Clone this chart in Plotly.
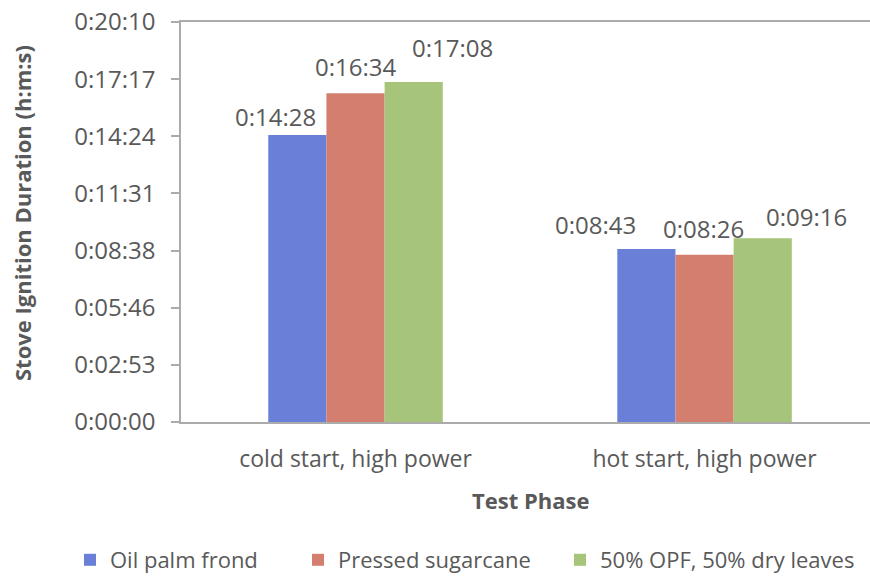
import plotly.graph_objects as go

# ---- data ----
categories = ["cold start, high power", "hot start, high power"]
series_names = ["Oil palm frond", "Pressed sugarcane", "50% OPF, 50% dry leaves"]
oil_palm_frond = [868, 523]        # seconds (0:14:28, 0:08:43)
pressed_sugarcane = [994, 506]     # seconds (0:16:34, 0:08:26)
opf_dry_leaves = [1028, 556]       # seconds (0:17:08, 0:09:16)
y_tick_seconds = [0, 172.8, 345.6, 518.4, 691.2, 864.0, 1036.8, 1209.6]
y_tick_labels = ["0:00:00", "0:02:53", "0:05:46", "0:08:38", "0:11:31", "0:14:24", "0:17:17", "0:20:10"]

series_values = [oil_palm_frond, pressed_sugarcane, opf_dry_leaves]
colors = ["#6A80D8", "#D47E6F", "#A6C47A"]

# label placement offsets (pixels) [series][category]
label_dx = [[-22, -51], [0, -1], [39, 44]]
label_dy = [[18, 25], [27, 26], [35, 22]]
# legend entry text start (pixels)
legend_text_px = [110, 338, 600]


def hms(s):
    s = int(round(s))
    return f"{s // 3600}:{(s % 3600) // 60:02d}:{s % 60:02d}"


FONT = "Open Sans"
GRAY = "#595959"
LINE = "#ABABAB"
PL, PR, PT, PB = 181, 870, 22, 422
PW, PH = PR - PL, PB - PT

legend_ids = ["legend", "legend2", "legend3"]

fig = go.Figure()
for name, vals, col, lid in zip(series_names, series_values, colors, legend_ids):
    fig.add_trace(go.Bar(name=name, x=categories, y=vals, legend=lid,
                         marker=dict(color=col, line=dict(width=0))))

bar_px = 58.2
for i, vals in enumerate(series_values):
    for j, v in enumerate(vals):
        fig.add_annotation(
            x=categories[j], y=v, xref="x", yref="y", text=hms(v), showarrow=False,
            xshift=(i - 1) * bar_px + label_dx[i][j], yshift=label_dy[i][j],
            font=dict(family=FONT, size=24, color=GRAY), xanchor="center", yanchor="middle",
        )

fig.add_annotation(
    text="<b>Stove Ignition Duration (h:m:s)</b>", textangle=-90, showarrow=False,
    xref="paper", yref="paper", x=(22 - PL) / PW, y=(PB - 213) / PH,
    xanchor="center", yanchor="middle", font=dict(family=FONT, size=22, color=GRAY),
)
fig.add_annotation(
    text="<b>Test Phase</b>", showarrow=False,
    xref="paper", yref="paper", x=(530 - PL) / PW, y=(PB - 500) / PH,
    xanchor="center", yanchor="middle", font=dict(family=FONT, size=22, color=GRAY),
)

legend_layout = {}
for lid, tx in zip(legend_ids, legend_text_px):
    legend_layout[lid] = dict(
        orientation="h", x=(tx - 40 - PL) / PW, y=(PB - 560) / PH, xanchor="left", yanchor="middle",
        font=dict(family=FONT, size=22, color=GRAY), itemwidth=30, bgcolor="rgba(0,0,0,0)",
    )

fig.update_layout(
    width=870, height=579,
    margin=dict(l=PL, r=870 - PR, t=PT, b=579 - PB, autoexpand=False),
    paper_bgcolor="white", plot_bgcolor="white",
    barmode="group", bargap=0.5, bargroupgap=0,
    font=dict(family=FONT, size=23, color=GRAY),
    showlegend=True,
    **legend_layout,
)
fig.update_xaxes(
    type="category", range=[-0.5, 1.474], showline=True, linecolor=LINE, linewidth=1.5,
    mirror=True, ticks="", showgrid=False, tickfont=dict(family=FONT, size=23, color=GRAY),
    ticklabelstandoff=16, fixedrange=True,
)
fig.update_yaxes(
    range=[0, 1209.6], tickvals=y_tick_seconds, ticktext=y_tick_labels, showline=True,
    linecolor=LINE, linewidth=1.5, ticks="outside", ticklen=8, tickcolor=LINE, tickwidth=1.5,
    showgrid=False, zeroline=False, tickfont=dict(family=FONT, size=24, color=GRAY),
    ticklabelstandoff=11, fixedrange=True,
)

fig.write_html(
    "out.html",
    config={"displayModeBar": False},
    post_script="document.body.style.margin='0';document.body.style.overflow='hidden';",
)
